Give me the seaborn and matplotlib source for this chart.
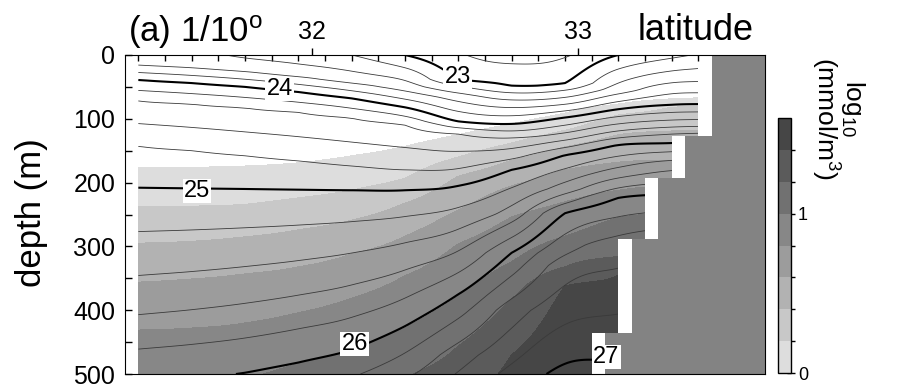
import numpy as np
import matplotlib
matplotlib.use("Agg")
import matplotlib.pyplot as plt
from matplotlib.colors import ListedColormap
from matplotlib.patches import Polygon
import seaborn as sns

nan = np.nan

# ---------------- data ----------------
lat_nodes = [31.35, 31.55, 31.75, 31.95, 32.15, 32.35, 32.55, 32.75, 32.95, 33.15, 33.35, 33.50]

# density (sigma) at the surface and depth (m) of selected isopycnals
surface_sigma = [23.48, 23.45, 23.37, 23.30, 23.20, 23.00, 22.82, 22.72, 22.78, 23.00, 23.15, 23.25]
sigma_levels = [23.0, 23.5, 24.0, 24.4, 24.8, 25.0, 25.5, 26.0, 26.5, 27.0]
depth_s230 = [nan, nan, nan, nan, nan, 0, 38, 48, 44, 0, nan, nan]
depth_s235 = [10, 14, 20, 28, 38, 50, 65, 76, 72, 55, 35, 32]
depth_s240 = [39, 44, 50, 58, 68, 82, 104, 108, 98, 85, 78, 77]
depth_s244 = [72, 77, 83, 90, 99, 110, 124, 130, 122, 108, 102, 101]
depth_s248 = [143, 150, 158, 166, 174, 180, 178, 163, 145, 130, 124, 122]
depth_s250 = [208, 209, 210, 211, 212, 212, 205, 180, 157, 141, 138, 136]
depth_s255 = [380, 372, 362, 350, 335, 315, 290, 250, 210, 185, 172, 170]
depth_s260 = [515, 508, 498, 482, 462, 425, 375, 310, 248, 224, 218, 218]
depth_s265 = [640, 630, 615, 595, 570, 530, 470, 400, 330, 298, 285, 285]
depth_s270 = [760, 750, 740, 720, 690, 650, 600, 540, 484, 478, 470, 470]
sigma_rows = [depth_s230, depth_s235, depth_s240, depth_s244, depth_s248,
              depth_s250, depth_s255, depth_s260, depth_s265, depth_s270]

# log10 concentration: depth (m) of each shading boundary
conc_levels = [0.0, 0.2, 0.4, 0.6, 0.8, 1.0, 1.2, 1.4]
depth_c00 = [177, 176, 174, 169, 158, 143, 125, 108, 91, 77, 69, 67]
depth_c02 = [238, 237, 234, 224, 212, 193, 160, 138, 118, 94, 82, 78]
depth_c04 = [295, 292, 285, 274, 259, 232, 190, 165, 144, 125, 119, 118]
depth_c06 = [356, 351, 343, 332, 312, 284, 243, 205, 180, 168, 165, 165]
depth_c08 = [431, 428, 420, 404, 381, 346, 296, 254, 230, 212, 204, 204]
depth_c10 = [528, 522, 509, 484, 462, 428, 378, 324, 284, 255, 246, 246]
depth_c12 = [600, 590, 575, 555, 530, 505, 456, 382, 332, 316, 310, 310]
depth_c14 = [720, 710, 700, 680, 650, 610, 560, 470, 362, 345, 345, 345]
conc_rows = [depth_c00, depth_c02, depth_c04, depth_c06, depth_c08,
             depth_c10, depth_c12, depth_c14]

# stepped topography: depth breaks, last ocean column edge, land edge
step_depths = [0, 127, 193, 288, 436, 500]
ocean_edge = [33.45, 33.35, 33.25, 33.15, 33.05]
land_edge = [33.50, 33.40, 33.30, 33.20, 33.10]

label_values = ["23", "24", "25", "26", "27"]
label_lat = [32.547, 31.88, 31.57, 32.161, 33.105]
label_depth = [34, 53, 213, 453, 473]

# ---------------- build fields ----------------
depth = np.arange(0, 501, 2.0)
nlat = len(lat_nodes)
sigma_n = np.empty((len(depth), nlat))
conc_n = np.empty((len(depth), nlat))
for j in range(nlat):
    d = [0.0]; v = [surface_sigma[j]]
    for lev, row in zip(sigma_levels, sigma_rows):
        dj = row[j]
        if np.isfinite(dj) and dj > d[-1] and lev > v[-1]:
            d.append(dj); v.append(lev)
    d += [d[-1] + 150.0, 3000.0]; v += [27.5, 28.0]
    sigma_n[:, j] = np.interp(depth, d, v)

    d = [0.0]; v = [-0.6]
    for lev, row in zip(conc_levels, conc_rows):
        d.append(row[j]); v.append(lev)
    d += [d[-1] + 120.0, 3000.0]; v += [1.55, 1.58]
    conc_n[:, j] = np.interp(depth, d, v)


def smooth_along_lat(field, xp, xf):
    """cubic Hermite resampling of each depth row across latitude"""
    xp = np.asarray(xp, float)
    m = np.gradient(field, xp, axis=1)
    k = np.clip(np.searchsorted(xp, xf) - 1, 0, len(xp) - 2)
    h = xp[k + 1] - xp[k]
    t = (xf - xp[k]) / h
    h00 = 2 * t**3 - 3 * t**2 + 1
    h10 = t**3 - 2 * t**2 + t
    h01 = -2 * t**3 + 3 * t**2
    h11 = t**3 - t**2
    return (field[:, k] * h00 + m[:, k] * h * h10 +
            field[:, k + 1] * h01 + m[:, k + 1] * h * h11)


lat_f = np.linspace(lat_nodes[0], lat_nodes[-1], 216)
sigma = smooth_along_lat(sigma_n, lat_nodes, lat_f)
conc = smooth_along_lat(conc_n, lat_nodes, lat_f)

# ---------------- style ----------------
sns.set_style("ticks", {"axes.edgecolor": "black", "xtick.color": "black",
                        "ytick.color": "black", "text.color": "black",
                        "axes.linewidth": 1.1})
plt.rcParams["font.family"] = ["Liberation Sans", "DejaVu Sans"]
plt.rcParams["mathtext.fontset"] = "custom"
plt.rcParams["mathtext.rm"] = "Liberation Sans"
plt.rcParams["mathtext.it"] = "Liberation Sans:italic"
plt.rcParams["mathtext.bf"] = "Liberation Sans:bold"

W, H = 899, 390
fig = plt.figure(figsize=(W / 100, H / 100), dpi=100)
ax = fig.add_axes([125 / W, 16 / H, 640 / W, 319 / H])
ax.set_xlim(31.30, 33.70)
ax.set_ylim(500, 0)

# clip region for ocean data
verts = [(lat_nodes[0], step_depths[0])]
for k, e in enumerate(ocean_edge):
    verts.append((e, step_depths[k]))
    verts.append((e, step_depths[k + 1]))
verts.append((lat_nodes[0], step_depths[-1]))
clip = Polygon(verts, closed=True, transform=ax.transData, fc="none", ec="none")

cmap = ListedColormap(sns.blend_palette(["#dddddd", "#464646"], 8))
clev = np.round(np.arange(0, 1.61, 0.2), 1)
cf = ax.contourf(lat_f, depth, conc, levels=clev, cmap=cmap, zorder=1)
cf.set_clip_path(clip)

all_lev = np.round(np.arange(22.8, 27.21, 0.2), 1)
thin = [l for l in all_lev if abs(l - round(l)) > 0.01]
thick = [23.0, 24.0, 25.0, 26.0, 27.0]
c1 = ax.contour(lat_f, depth, sigma, levels=thin, colors="#3a3a3a",
                linewidths=0.6, zorder=2)
c1.set_clip_path(clip)
c2 = ax.contour(lat_f, depth, sigma, levels=thick, colors="black",
                linewidths=1.5, zorder=2)
c2.set_clip_path(clip)

# topography
tl = [land_edge[0], 33.70, 33.70]
td = [step_depths[0], step_depths[0], step_depths[-1]]
for k in range(len(land_edge) - 1, -1, -1):
    tl += [land_edge[k], land_edge[k]]
    td += [step_depths[k + 1], step_depths[k]]
ax.fill(tl, td, color="#838383", lw=0, zorder=3)

for s, la, de in zip(label_values, label_lat, label_depth):
    ax.text(la, de, s, fontsize=17, ha="center", va="center", zorder=6,
            bbox=dict(boxstyle="square,pad=0.05", fc="white", ec="none"))

# axes ticks
ax.xaxis.set_ticks_position("top")
ax.set_xticks([32, 33])
ax.set_xticklabels(["32", "33"])
ax.set_xticks(np.arange(31.35, 33.7, 0.1), minor=True)
ax.tick_params(axis="x", which="major", direction="out", length=5, width=1,
               labelsize=18, pad=3, top=True, bottom=False)
ax.tick_params(axis="x", which="minor", direction="in", length=4, width=1,
               top=True, bottom=False)
ax.set_yticks(range(0, 501, 100))
ax.set_yticks(range(50, 500, 100), minor=True)
ax.tick_params(axis="y", which="both", direction="in", length=5, width=1,
               labelsize=18, pad=7, left=True, right=False)
for sp in ax.spines.values():
    sp.set_zorder(7)

fig.text(32 / W, 1 - 213 / H, "depth (m)", rotation=90, ha="center",
         va="center", fontsize=25)
fig.text(128 / W, 1 - 42 / H, "(a) 1/10$^{\\mathrm{o}}$", ha="left",
         va="baseline", fontsize=25)
fig.text(638 / W, 1 - 40 / H, "latitude", ha="left", va="baseline", fontsize=26)

# colorbar
cax = fig.add_axes([778 / W, 17 / H, 13 / W, 255 / H])
cb = fig.colorbar(cf, cax=cax, ticks=clev[:-1])
cb.ax.set_yticklabels(["0", "", "", "", "", "1", "", ""])
cb.ax.tick_params(direction="inout", length=6, width=1, labelsize=13, pad=2)
cb.outline.set_linewidth(1)
fig.text(825 / W, 1 - 57 / H, "(mmol/m$^3$)", rotation=-90, ha="center",
         va="top", fontsize=19)
fig.text(853 / W, 1 - 80 / H, "log$_{10}$", rotation=-90, ha="center",
         va="top", fontsize=19)

fig.savefig("out.png", dpi=100)
